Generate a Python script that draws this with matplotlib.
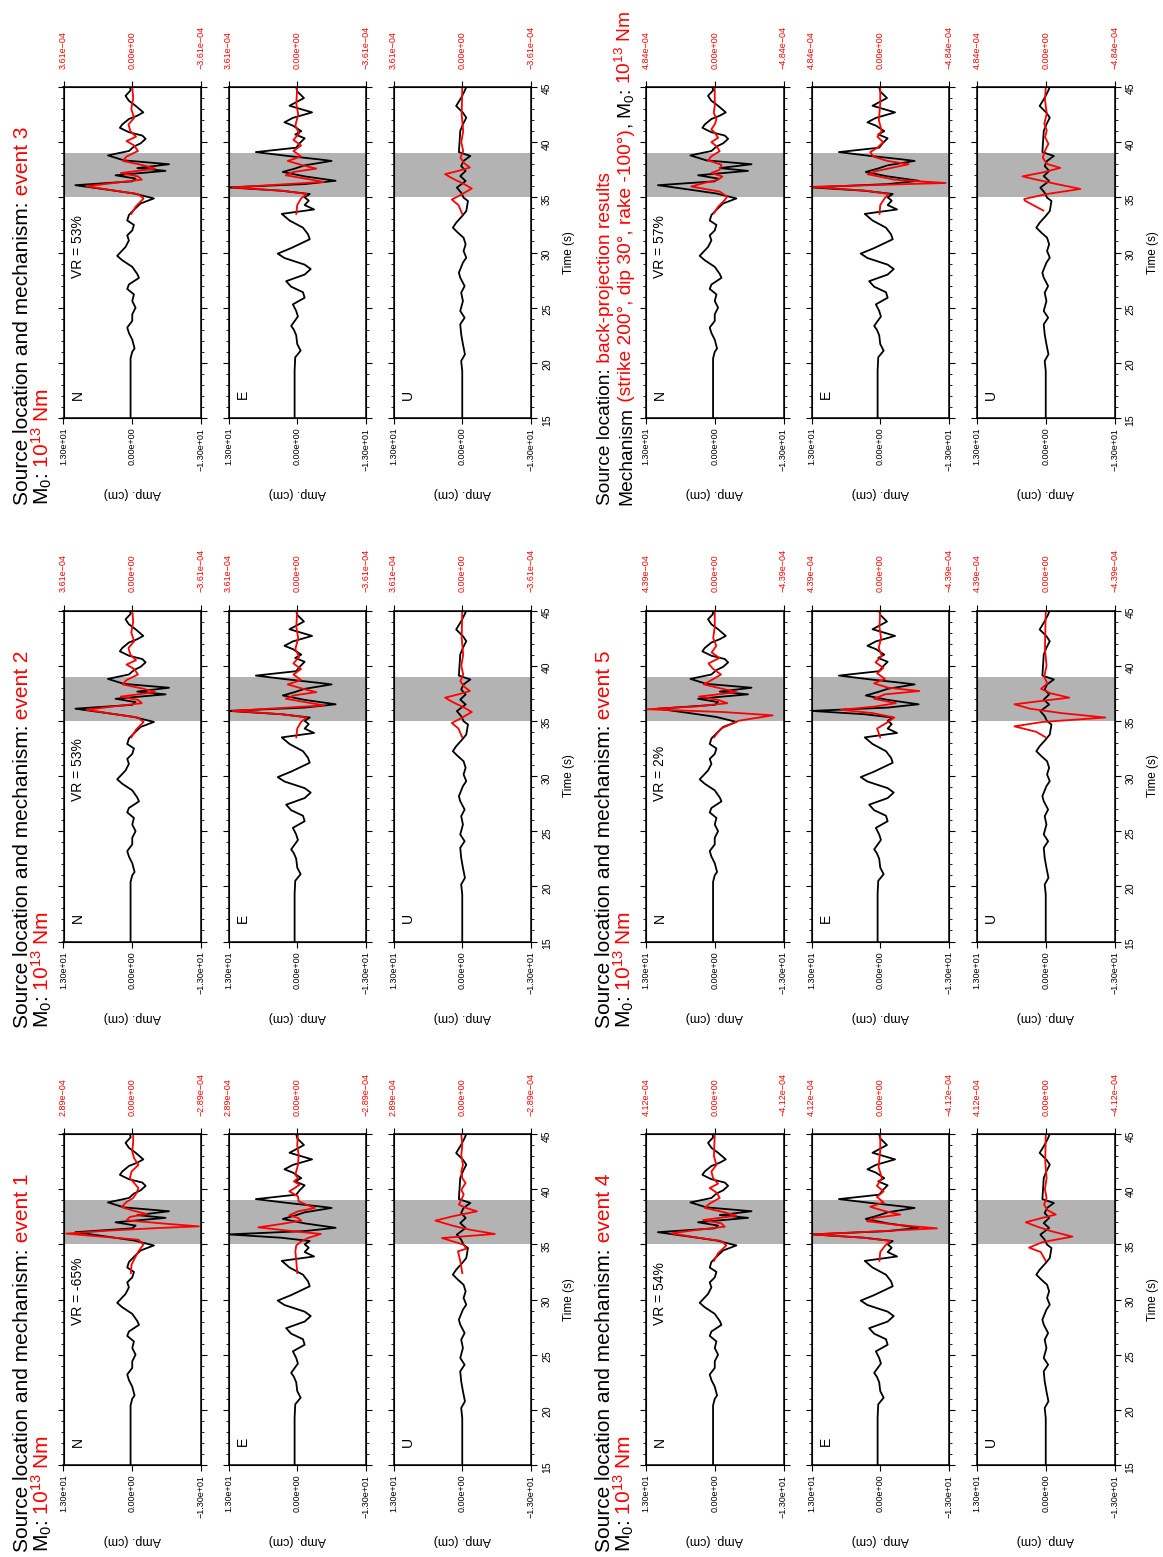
import numpy as np
import matplotlib.pyplot as plt
from matplotlib.ticker import MultipleLocator

plt.rcParams['font.family'] = ['Liberation Sans', 'DejaVu Sans']
plt.rcParams['mathtext.fontset'] = 'custom'
plt.rcParams['mathtext.rm'] = 'Liberation Sans'
plt.rcParams['mathtext.it'] = 'Liberation Sans:italic'

W, H = 1163, 1557
T_MIN, T_MAX = 15, 45
WINDOW = (35, 39)
OBS_MAX = 13.0

# observed displacement, columns: time (s), amplitude (cm)
obs_n = np.array([
    [15.0, 0.32], [20.4, 0.32], [21.0, 0.0], [21.3, -0.44], [22.1, 0.0],
    [22.7, 0.63], [23.2, 0.95], [23.8, 0.0], [24.4, 0.0], [25.0, -0.63],
    [25.6, 0.0], [26.2, -0.32], [26.7, 0.95], [27.1, 0.63], [27.7, -1.27],
    [28.05, -0.95], [28.7, 0.0], [29.3, 1.9], [29.7, 2.85], [30.5, 1.27],
    [31.1, 0.63], [31.55, 0.95], [32.0, 0.0], [32.5, -0.32], [32.9, 0.95],
    [33.4, 0.63], [34.0, -0.6], [34.45, -1.6], [34.9, -4.1], [35.35, -0.3],
    [35.7, 4.75], [36.1, 10.76], [36.45, 0.0], [36.7, -0.63], [37.0, 3.16],
    [37.4, -6.3], [37.65, -0.95], [38.0, -6.96], [38.35, 1.58], [38.8, 4.6],
    [39.2, 0.63], [39.6, -0.32], [39.9, -1.6], [40.3, -2.53], [40.6, -1.9],
    [40.9, 0.63], [41.3, 2.34], [41.6, 1.9], [42.1, 0.63], [42.4, -0.95],
    [42.7, -2.09], [43.3, -0.63], [43.75, 0.63], [44.2, 1.27], [44.7, 0.3],
    [45.0, 0.44],
])
obs_e = np.array([
    [15.0, 0.5], [19.3, 0.5], [20.5, 0.38], [21.1, -0.64], [21.7, 0.0],
    [22.5, 0.2], [23.0, 0.64], [23.35, 1.15], [24.2, -0.13], [24.7, 0.2],
    [25.3, 0.83], [25.9, -1.4], [26.4, -1.08], [26.9, 1.15], [27.4, 2.1],
    [28.0, -1.4], [28.5, -2.55], [28.9, -1.4], [29.5, 2.42], [29.9, 3.69],
    [30.4, 1.15], [31.2, -2.36], [31.65, -2.04], [32.25, -1.08], [32.9, 1.46],
    [33.5, 2.93], [33.9, -3.18], [34.3, -1.4], [34.7, -2.17], [35.0, -1.4],
    [35.3, -2.36], [35.6, 3.06], [35.9, 13.0], [36.2, -1.4], [36.5, -7.26],
    [36.9, -1.4], [37.3, 2.74], [37.6, 0.5], [37.9, -1.4], [38.3, -6.5],
    [38.45, -3.95], [38.75, 1.78], [39.1, 7.83], [39.5, 0.2], [39.9, -0.45],
    [40.35, -1.4], [40.7, 0.38], [41.0, -0.76], [41.5, 0.83], [41.8, 2.42],
    [42.2, 0.83], [42.7, -2.8], [43.3, 1.46], [44.0, -1.27], [44.6, 0.0],
    [45.0, 0.2],
])
obs_u = np.array([
    [15.0, 0.0], [19.26, 0.0], [20.17, 0.2], [20.77, -0.51], [21.68, -0.13],
    [22.58, 0.2], [23.49, 0.38], [24.09, -0.45], [24.7, 0.38], [25.6, -0.13],
    [26.36, 0.2], [26.96, -0.45], [27.72, 0.38], [28.17, 0.64], [29.08, -0.13],
    [29.53, -0.76], [30.14, -0.25], [30.74, -0.64], [31.34, -0.25], [31.8, 0.83],
    [32.25, 1.78], [32.7, 1.15], [33.31, 0.0], [33.76, -0.76], [34.67, -1.08],
    [34.97, -0.25], [35.42, 0.2], [35.88, 1.02], [36.48, -0.64], [36.93, 0.38],
    [37.39, -0.64], [37.84, 0.2], [38.3, -0.25], [38.75, -1.53], [39.1, 0.64],
    [40.1, 0.5], [41.01, 0.38], [41.62, -0.13], [42.22, -0.76], [42.67, -0.13],
    [43.28, 1.15], [44.03, 0.2], [44.64, -0.45], [45.0, -0.76],
])

# synthetic displacement, columns: time (s), amplitude (1e-4)
syn1_n = np.array([
    [32.4, 0.06], [33.16, 0.03], [33.76, -0.11], [34.37, -0.26], [34.97, -0.47],
    [35.42, -0.26], [35.57, 0.59], [35.97, 2.78], [36.24, 1.02], [36.48, -1.1],
    [36.63, -2.8], [36.87, -1.39], [37.18, 0.24], [37.48, 0.1], [37.75, -0.61],
    [38.05, -0.04], [38.38, 0.45], [38.84, 0.24], [39.2, -0.04], [39.65, -0.18],
    [40.1, -0.26], [40.56, -0.08], [41.0, 0.1], [41.6, 0.03], [42.2, -0.26],
    [42.8, -0.08], [43.4, 0.0], [44.3, -0.04], [45.0, -0.04],
])
syn1_e = np.array([
    [32.4, 0.0], [33.46, 0.04], [34.37, 0.08], [34.91, 0.04], [35.27, -0.17],
    [35.57, -0.45], [35.94, -0.99], [36.24, 0.4], [36.54, 1.64], [36.84, 0.68],
    [37.15, -0.17], [37.39, -0.03], [37.63, 0.33], [37.99, -0.03], [38.29, -0.74],
    [38.6, -0.38], [38.9, -0.06], [39.35, -0.03], [39.8, 0.33], [40.1, 0.11],
    [40.4, -0.1], [40.7, 0.14], [41.0, -0.03], [41.3, 0.08], [42.2, -0.03],
    [43.1, -0.06], [44.0, 0.0], [45.0, -0.03],
])
syn1_u = np.array([
    [32.4, 0.0], [33.46, 0.08], [34.37, 0.18], [34.6, -0.17], [34.97, -0.06],
    [35.27, 0.4], [35.57, 0.85], [35.94, -1.37], [36.33, -0.31], [36.69, 0.4],
    [37.15, 1.13], [37.54, 0.4], [37.99, -0.62], [38.29, -0.17], [38.6, 0.14],
    [39.05, 0.04], [39.5, -0.06], [39.95, 0.04], [40.56, -0.14], [41.0, 0.0],
    [41.6, 0.04], [42.2, -0.03], [43.1, 0.04], [44.0, 0.0], [45.0, 0.04],
])
syn2_n = np.array([
    [33.5, 0.05], [34.2, -0.2], [34.9, -0.6], [35.3, -0.3], [35.6, 0.9],
    [36.0, 2.4], [36.3, 1.0], [36.6, -0.5], [36.9, -0.3], [37.2, 0.6],
    [37.6, -1.2], [37.9, -0.6], [38.3, 0.5], [38.7, 0.3], [39.2, -0.3],
    [39.7, -0.1], [40.1, 0.3], [40.5, -0.2], [41.0, 0.1], [41.6, 0.2],
    [42.2, -0.1], [43.0, 0.05], [44.0, -0.05], [45.0, 0.0],
])
syn2_e = np.array([
    [33.5, 0.05], [34.3, 0.0], [34.9, -0.2], [35.3, -0.5], [35.6, 0.8],
    [35.9, 3.4], [36.2, 0.5], [36.4, -1.4], [36.7, -0.4], [37.0, 0.6],
    [37.3, 0.2], [37.6, -1.0], [37.9, -0.3], [38.3, 0.5], [38.7, -0.2],
    [39.2, 0.2], [39.7, -0.2], [40.2, 0.2], [40.8, -0.1], [41.5, 0.1],
    [42.5, -0.05], [43.5, 0.05], [45.0, 0.0],
])
syn2_u = np.array([
    [33.5, 0.0], [34.3, 0.2], [34.8, 0.55], [35.2, 0.1], [35.8, -0.5],
    [36.2, -0.1], [36.7, 0.5], [37.1, 0.9], [37.4, 0.2], [37.7, -0.4],
    [38.1, -0.1], [38.6, 0.1], [39.2, -0.05], [40.0, 0.05], [41.0, -0.05],
    [42.5, 0.03], [45.0, 0.0],
])
syn3_n = np.array([
    [33.5, 0.05], [34.2, -0.2], [34.9, -0.6], [35.3, -0.3], [35.6, 0.9],
    [36.0, 2.4], [36.3, 1.0], [36.6, -0.5], [36.9, -0.3], [37.2, 0.6],
    [37.6, -1.2], [37.9, -0.6], [38.3, 0.5], [38.7, 0.3], [39.2, -0.3],
    [39.7, -0.1], [40.1, 0.3], [40.5, -0.2], [41.0, 0.1], [41.6, 0.2],
    [42.2, -0.1], [43.0, 0.05], [44.0, -0.05], [45.0, 0.0],
])
syn3_e = np.array([
    [33.5, 0.05], [34.3, 0.0], [34.9, -0.2], [35.3, -0.5], [35.6, 0.8],
    [35.9, 3.4], [36.2, 0.5], [36.4, -1.4], [36.7, -0.4], [37.0, 0.6],
    [37.3, 0.2], [37.6, -1.0], [37.9, -0.3], [38.3, 0.5], [38.7, -0.2],
    [39.2, 0.2], [39.7, -0.2], [40.2, 0.2], [40.8, -0.1], [41.5, 0.1],
    [42.5, -0.05], [43.5, 0.05], [45.0, 0.0],
])
syn3_u = np.array([
    [33.5, 0.0], [34.3, 0.2], [34.8, 0.55], [35.2, 0.1], [35.8, -0.5],
    [36.2, -0.1], [36.7, 0.5], [37.1, 0.9], [37.4, 0.2], [37.7, -0.4],
    [38.1, -0.1], [38.6, 0.1], [39.2, -0.05], [40.0, 0.05], [41.0, -0.05],
    [42.5, 0.03], [45.0, 0.0],
])
syn4_n = np.array([
    [33.5, 0.05], [34.2, -0.2], [34.9, -0.7], [35.3, -0.4], [35.6, 1.0],
    [36.0, 2.6], [36.3, 1.1], [36.6, -0.6], [36.9, -0.4], [37.2, 0.7],
    [37.6, -1.3], [37.9, -0.6], [38.3, 0.6], [38.7, 0.3], [39.2, -0.3],
    [39.7, -0.1], [40.1, 0.3], [40.5, -0.2], [41.0, 0.1], [41.6, 0.2],
    [42.2, -0.1], [43.0, 0.05], [45.0, 0.0],
])
syn4_e = np.array([
    [33.5, 0.05], [34.3, 0.0], [34.9, -0.3], [35.3, -0.6], [35.6, 1.0],
    [35.9, 4.0], [36.15, 0.5], [36.45, -3.4], [36.8, -0.8], [37.1, 0.8],
    [37.4, 0.3], [37.7, -1.2], [38.0, -0.3], [38.4, 0.6], [38.8, -0.2],
    [39.3, 0.2], [39.8, -0.2], [40.3, 0.2], [41.0, -0.1], [42.0, 0.1],
    [43.5, 0.0], [45.0, 0.0],
])
syn4_u = np.array([
    [33.5, 0.0], [34.3, 0.3], [34.7, 1.0], [35.2, 0.2], [35.7, -1.6],
    [36.2, -0.3], [36.6, 0.5], [37.0, 1.2], [37.4, 0.2], [37.7, -0.6],
    [38.1, -0.1], [38.6, 0.1], [39.2, -0.05], [40.0, 0.05], [41.0, -0.05],
    [42.5, 0.03], [45.0, 0.0],
])
syn5_n = np.array([
    [33.5, 0.05], [34.3, -0.4], [35.0, -1.5], [35.5, -3.7], [35.8, -0.5],
    [36.05, 4.3], [36.3, 1.2], [36.6, -0.8], [36.9, -0.2], [37.2, 1.0],
    [37.6, -1.4], [37.9, -0.5], [38.3, 0.7], [38.7, 0.2], [39.2, -0.4],
    [39.7, 0.1], [40.2, 0.4], [40.7, -0.3], [41.2, 0.2], [41.8, -0.1],
    [42.5, 0.1], [43.5, 0.0], [45.0, 0.0],
])
syn5_e = np.array([
    [33.5, 0.0], [34.3, 0.2], [34.9, -0.5], [35.3, -0.9], [35.7, 0.5],
    [36.0, 2.5], [36.3, 0.3], [36.6, -1.0], [37.0, 0.4], [37.4, -0.3],
    [37.7, -2.5], [38.0, -0.5], [38.4, 0.4], [38.8, -0.3], [39.3, 0.2],
    [39.8, -0.2], [40.3, 0.3], [40.9, -0.1], [41.6, 0.1], [42.5, -0.05],
    [43.5, 0.05], [45.0, 0.0],
])
syn5_u = np.array([
    [33.5, 0.0], [34.0, 0.6], [34.5, 2.0], [34.9, 0.2], [35.3, -3.8],
    [35.7, -1.0], [36.1, 1.0], [36.5, 2.0], [36.8, 0.3], [37.1, -1.5],
    [37.5, -0.3], [37.9, 0.3], [38.4, -0.1], [39.0, 0.1], [40.0, -0.05],
    [41.5, 0.05], [45.0, 0.0],
])
synbp_n = np.array([
    [33.54, 0.07], [34.15, -0.24], [34.76, -0.71], [35.06, -0.87], [35.52, -0.35],
    [35.98, 1.65], [36.28, 0.82], [36.59, -0.24], [36.89, -0.54], [37.2, 0.24],
    [37.5, -0.35], [37.96, -0.47], [38.35, 0.47], [38.72, 0.24], [39.18, -0.35],
    [39.63, -0.12], [40.0, 0.24], [40.4, -0.24], [40.85, 0.0], [41.16, 0.24],
    [41.62, 0.0], [42.07, -0.12], [42.68, 0.07], [43.3, 0.0], [45.0, 0.0],
])
synbp_e = np.array([
    [33.5, 0.05], [34.3, 0.0], [34.9, -0.3], [35.3, -0.6], [35.6, 1.0],
    [35.95, 4.84], [36.3, -4.6], [36.6, -1.0], [37.1, 0.9], [37.4, 0.2],
    [38.0, -2.0], [38.3, -0.5], [38.7, 0.5], [39.1, 0.7], [39.5, 0.2],
    [40.0, -0.2], [40.5, 0.2], [41.0, -0.1], [42.0, 0.1], [43.5, 0.0],
    [45.0, 0.0],
])
synbp_u = np.array([
    [33.8, 0.17], [34.7, 1.47], [34.85, 1.52], [35.3, -0.07], [35.76, -2.44],
    [36.2, -0.78], [36.67, 0.88], [36.9, 1.64], [37.27, 0.17], [37.67, -1.02],
    [38.03, -0.07], [38.6, 0.21], [39.24, 0.05], [39.85, -0.19], [40.45, 0.05],
    [41.06, -0.07], [41.67, 0.1], [42.6, -0.07], [43.8, 0.05], [45.0, 0.0],
])

components = ['N', 'E', 'U']
obs_traces = [obs_n, obs_e, obs_u]

# synthetic amplitude limits (1e-4) and variance reductions
syn_max = {'1': 2.89, '2': 3.61, '3': 3.61, '4': 4.12, '5': 4.39, 'bp': 4.84}
vr_text = {'1': 'VR = -65%', '2': 'VR = 53%', '3': 'VR = 53%',
           '4': 'VR = 54%', '5': 'VR = 2%', 'bp': 'VR = 57%'}
syn_traces = {
    '1': [syn1_n, syn1_e, syn1_u], '2': [syn2_n, syn2_e, syn2_u],
    '3': [syn3_n, syn3_e, syn3_u], '4': [syn4_n, syn4_e, syn4_u],
    '5': [syn5_n, syn5_e, syn5_u], 'bp': [synbp_n, synbp_e, synbp_u],
}

# page layout in pixels (figure is laid out sideways)
col_x = [[63.5, 228.5, 393.5], [646.0, 811.5, 977.0]]
row_top = [87.0, 610.5, 1134.0]
PW, PH = 137.5, 331.0
slots = {'3': (0, 0), '2': (0, 1), '1': (0, 2),
         'bp': (1, 0), '5': (1, 1), '4': (1, 2)}


def sci(v):
    return '{:.2e}'.format(v).replace('-', '\u2212')


fig = plt.figure(figsize=(W / 100, H / 100), dpi=100)


def add_panel(left, top, obs, syn, smax, comp, vr, last):
    ax = fig.add_axes([left / W, 1 - (top + PH) / H, PW / W, PH / H])
    ax.axhspan(WINDOW[0], WINDOW[1], color='#b3b3b3', lw=0, zorder=0)
    ax.plot(obs[:, 1], obs[:, 0], color='k', lw=1.3, zorder=2)
    ax.set_xlim(OBS_MAX, -OBS_MAX)
    ax.set_xticks([OBS_MAX, 0, -OBS_MAX])
    ax.set_xticklabels([sci(v) for v in (OBS_MAX, 0, -OBS_MAX)])
    ax.tick_params(axis='x', labelrotation=90, labelsize=6.5, length=4, width=0.8, pad=3)
    ax.set_xlabel('Amp. (cm)', rotation=180, fontsize=9, labelpad=12)
    ax.yaxis.set_major_locator(MultipleLocator(5))
    ax.yaxis.set_minor_locator(MultipleLocator(1))
    ax.tick_params(axis='y', which='both', direction='out', left=True, right=True,
                   labelleft=False, labelright=last, labelrotation=90, labelsize=7.5)
    ax.tick_params(axis='y', which='major', length=4.5, width=0.8)
    ax.tick_params(axis='y', which='minor', length=2.5, width=0.6)
    if last:
        ax.yaxis.set_label_position('right')
        ax.set_ylabel('Time (s)', fontsize=8.5, labelpad=8)
    for sp in ax.spines.values():
        sp.set_linewidth(1.1)

    ax2 = ax.twiny()
    s = smax * 1e-4
    ax2.plot(syn[:, 1] * 1e-4, syn[:, 0], color='#ff0000', lw=1.3)
    ax2.set_xlim(s, -s)
    ax2.set_xticks([s, 0, -s])
    ax2.set_xticklabels([sci(v) for v in (s, 0, -s)], color='#ff0000')
    ax2.tick_params(axis='x', labelrotation=90, labelsize=6.5, length=4, width=0.8, pad=9)
    ax.set_ylim(T_MIN, T_MAX)

    ax.text(10.3, 17.1, comp, rotation=90, fontsize=10, ha='center', va='center')
    if vr:
        ax.text(10.3, 27.7, vr, rotation=90, rotation_mode='anchor',
                fontsize=10, ha='left', va='center')
    return ax


def rich_text(x_px, y_px, pieces, size):
    """Write coloured pieces one after another, reading upwards."""
    y = 1 - y_px / H
    r = fig.canvas.get_renderer()
    for s, c in pieces:
        t = fig.text(x_px / W, y, s, color=c, fontsize=size, rotation=90,
                     rotation_mode='anchor', ha='left', va='baseline')
        bb = t.get_window_extent(renderer=r)
        y = bb.y1 / fig.bbox.height


for key, (ci, ri) in slots.items():
    for k in range(3):
        add_panel(col_x[ci][k], row_top[ri], obs_traces[k], syn_traces[key][k],
                  syn_max[key], components[k], vr_text[key] if k == 0 else None, k == 2)

for key, (ci, ri) in slots.items():
    x0 = col_x[ci][0]
    y0 = row_top[ri] + PH + 87
    if key == 'bp':
        line1 = [('Source location:', 'k'), (' back-projection results', '#ff0000')]
        line2 = [('Mechanism', 'k'), (' (strike 200\u00b0, dip 30\u00b0, rake -100\u00b0)', '#ff0000'),
                 (', M$_0$:', 'k'), (' 10$^{13}$ Nm', '#ff0000')]
        size = 13.8
    else:
        line1 = [('Source location and mechanism:', 'k'), (' event ' + key, '#ff0000')]
        line2 = [('M$_0$:', 'k'), (' 10$^{13}$ Nm', '#ff0000')]
        size = 15
    rich_text(x0 - 36, y0, line1, size)
    rich_text(x0 - 15, y0, line2, size)

fig.savefig('out.png', dpi=100)
